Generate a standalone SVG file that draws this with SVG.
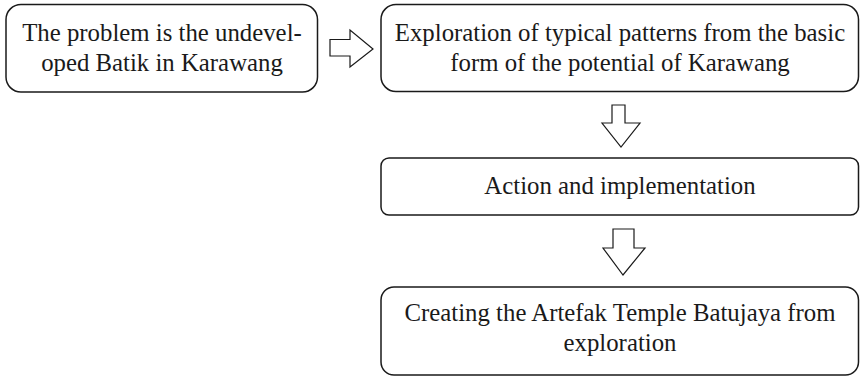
<svg xmlns="http://www.w3.org/2000/svg" width="861" height="377" viewBox="0 0 861 377">
<style>
.box{fill:#fff;stroke:#1a1a1a;stroke-width:1.5}
.arr{fill:#fff;stroke:#1a1a1a;stroke-width:1.2;stroke-linejoin:miter}
text{font-family:"Liberation Serif","Times New Roman",serif;font-size:24.8px;fill:#1a1a1a;text-anchor:middle}
</style>
<rect width="861" height="377" fill="#fff"/>
<g id="node-problem">
<rect class="box" x="6" y="4.5" width="311.5" height="87.5" rx="15"/>
<text x="162" y="41">The problem is the undevel-</text>
<text x="162" y="71">oped Batik in Karawang</text>
</g>
<g id="node-exploration">
<rect class="box" x="381" y="4.5" width="477.5" height="87" rx="15"/>
<text x="620" y="41">Exploration of typical patterns from the basic</text>
<text x="620" y="71">form of the potential of Karawang</text>
</g>
<g id="node-action">
<rect class="box" x="381" y="158" width="477.5" height="57" rx="8"/>
<text x="620" y="194">Action and implementation</text>
</g>
<g id="node-creating">
<rect class="box" x="381" y="287" width="477.5" height="88" rx="13"/>
<text x="620" y="321">Creating the Artefak Temple Batujaya from</text>
<text x="620" y="351">exploration</text>
</g>
<g id="connectors">
<polygon class="arr" points="330,39.5 350,39.5 350,30 373,49 350,67 350,56 330,56"/>
<polygon class="arr" points="612,105 625,105 625,123 640,123 621,147 602,123 612,123"/>
<polygon class="arr" points="613,229 634,229 634,248 645,248 623,275 603,248 613,248"/>
</g>
</svg>
